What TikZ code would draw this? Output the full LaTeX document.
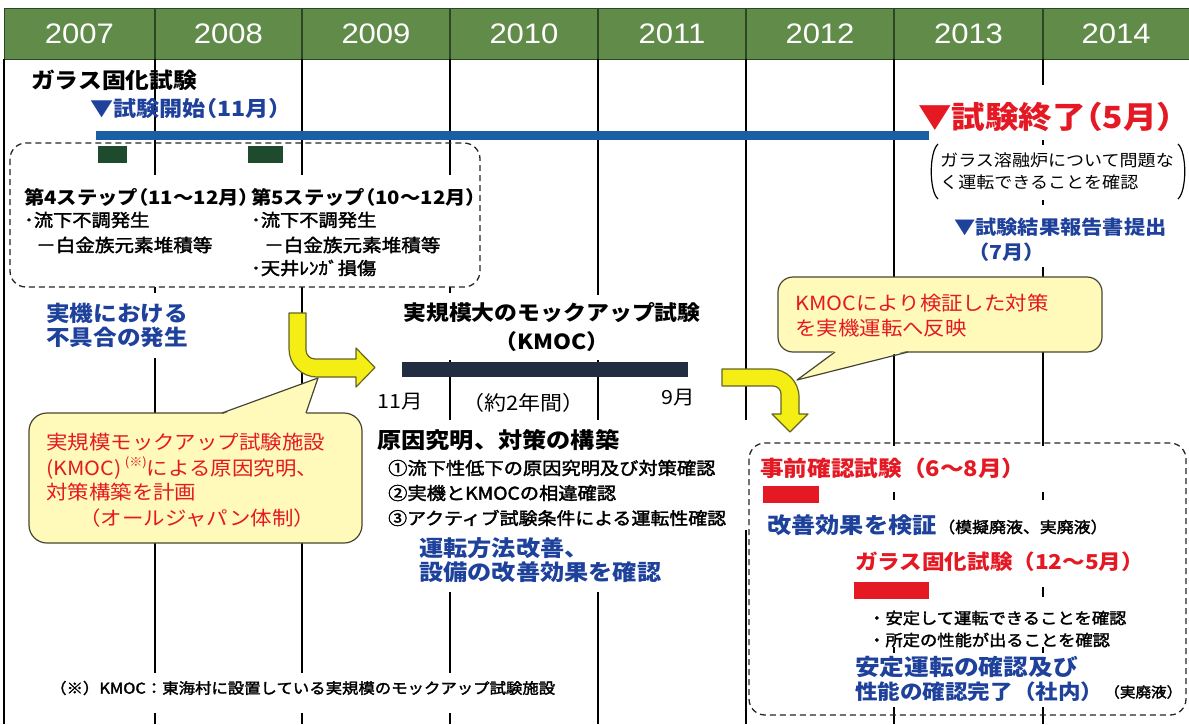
\documentclass[tikz,border=0pt]{standalone}
\usepackage{fontspec}
\setmainfont{Noto Sans CJK JP}[FakeStretch=1.1]
\newfontfamily\jpm{Noto Sans CJK JP}[FakeStretch=1.1,FakeBold=2]
\newfontfamily\yr{Liberation Sans}[FakeStretch=1.1]
\newcommand\fsz[1]{\fontsize{#1}{#1}\selectfont}
\newcommand\lp{\makebox[0.55em][r]{（}}
\newcommand\rp{\makebox[0.55em][l]{）}}
\definecolor{hdr}{RGB}{96,139,72}
\definecolor{hdrline}{RGB}{45,70,35}
\definecolor{jblue}{RGB}{30,65,155}
\definecolor{barblue}{RGB}{25,95,165}
\definecolor{jred}{RGB}{228,25,35}
\definecolor{navy}{RGB}{35,45,65}
\definecolor{dgreen}{RGB}{30,75,45}
\definecolor{cofill}{RGB}{255,250,185}
\definecolor{coline}{RGB}{70,70,50}
\definecolor{ayel}{RGB}{245,238,20}
\definecolor{aedge}{RGB}{100,100,40}
\tikzset{
  col/.style={line width=1.3pt, black},
  dbox/.style={draw=black!85, line width=1.3pt, dash pattern=on 6pt off 4pt, rounded corners=16pt},
  co/.style={fill=cofill, draw=coline, line width=1.2pt},
  cotip/.style={fill=cofill, draw=none},
  yarr/.style={fill=ayel, draw=aedge, line width=1.2pt, line join=round},
  tx/.style={anchor=west, inner sep=0pt},
  yearlbl/.style={inner sep=0pt, text=white, font=\yr\fsz{28.2}},
}
\begin{document}
\begin{tikzpicture}[x=1pt,y=-1pt]
\useasboundingbox (0,0) rectangle (1189,724);
\fill[white] (0,0) rectangle (1189,724);
% header
\filldraw[fill=hdr, draw=hdrline, line width=1pt] (4,8) rectangle (1192,59);
\foreach \x in {155,302,450,598,746,894,1043} \draw[hdrline, line width=1.2pt] (\x,8) -- (\x,59);
\foreach \n/\x in {2007/79.5,2008/228.5,2009/376,2010/524,2011/672,2012/820,2013/968.5,2014/1116}
  \node[yearlbl] (y\n) at (\x,34) {\n};
% column lines
\draw[col] (4,59) -- (4,724);
\foreach \a/\b in {59/175,287/293,358/413,543/673,713/724} \draw[col] (155,\a) -- (155,\b);
\foreach \a/\b in {59/175,287/413,543/673,713/724} \draw[col] (302,\a) -- (302,\b);
\foreach \a/\b in {59/175,287/293,360/420,592/673,713/724} \draw[col] (450,\a) -- (450,\b);
\foreach \a/\b in {59/295,360/420,592/724} \draw[col] (598,\a) -- (598,\b);
\foreach \a/\b in {59/420,530/724} \draw[col] (746,\a) -- (746,\b);
\foreach \a/\b in {59/277,352/446,492/500,587/597,647/653,707/724} \draw[col] (894,\a) -- (894,\b);
\foreach \a/\b in {59/85,140/145,200/205,267/277,352/446,492/500,587/597,647/653,707/724} \draw[col] (1043,\a) -- (1043,\b);
% top glass test
\node[tx, font=\bfseries\fsz{21.6}] (gtitle) at (31,80) {ガラス固化試験};
\node[tx, text=jblue, font=\bfseries\fsz{21}] (gstart) at (90,109) {▼試験開始\lp 11月\rp};
\fill[barblue] (96,130.5) rectangle (929,140);
\node[tx, text=jred, font=\bfseries\fsz{30.5}] (gend) at (918,117) {▼試験終了\lp 5月\rp};
\node[tx, font=\fsz{16.4}] (pn1) at (940,160) {ガラス溶融炉について問題な};
\node[tx, font=\fsz{16.4}] (pn2) at (940,182) {く運転できることを確認};
\draw[line width=1.2pt] (938,144) .. controls (929,152) and (929,191) .. (938,199);
\draw[line width=1.2pt] (1178,144) .. controls (1187,152) and (1187,191) .. (1178,199);
\node[tx, text=jblue, font=\bfseries\fsz{19.3}] (rep1) at (954,227) {▼試験結果報告書提出};
\node[tx, text=jblue, font=\bfseries\fsz{19.3}] (rep2) at (979,252) {\lp 7月\rp};
% left dashed box
\draw[dbox] (10,143) rectangle (480,287);
\fill[dgreen] (98,146) rectangle (127,163);
\fill[dgreen] (248,146) rectangle (283,163);
\node[tx, font=\bfseries\fsz{18.5}] (s4) at (24,197) {第4ステップ\lp 11～12月\rp};
\node[tx, font=\jpm\fsz{17.5}] (s4a) at (24,220) {･流下不調発生};
\node[tx, font=\jpm\fsz{17.8}] (s4b) at (36,245) {－白金族元素堆積等};
\node[tx, font=\bfseries\fsz{18.5}] (s5) at (251,197) {第5ステップ\lp 10～12月\rp};
\node[tx, font=\jpm\fsz{17.5}] (s5a) at (251,220) {･流下不調発生};
\node[tx, font=\jpm\fsz{17.8}] (s5b) at (264,245) {－白金族元素堆積等};
\node[tx, font=\jpm\fsz{17.5}] (s5c) at (251,268) {･天井ﾚﾝｶﾞ損傷};
\node[tx, text=jblue, font=\bfseries\fsz{21.5}] (fail1) at (46,313) {実機における};
\node[tx, text=jblue, font=\bfseries\fsz{21.5}] (fail2) at (46,337) {不具合の発生};
% KMOC
\node[font=\bfseries\fsz{20.8}, inner sep=0pt] (km1) at (552,313) {実規模大のモックアップ試験};
\node[font=\bfseries\fsz{20.8}, inner sep=0pt] (km2) at (552,342) {（KMOC）};
\fill[navy] (402,362) rectangle (688,377);
\node[tx, font=\fsz{19.5}] (m11) at (377,402) {11月};
\node[tx, font=\fsz{20}] (m2y) at (462,403) {（約2年間）};
\node[tx, font=\fsz{19.5}] (m9) at (661,398) {9月};
\node[tx, font=\bfseries\fsz{22}] (cause) at (377,440) {原因究明、対策の構築};
\node[tx, font=\jpm\fsz{17.5}] (c1) at (388,468) {①流下性低下の原因究明及び対策確認};
\node[tx, font=\jpm\fsz{17.5}] (c2) at (388,493) {②実機とKMOCの相違確認};
\node[tx, font=\jpm\fsz{17.2}] (c3) at (388,518) {③アクティブ試験条件による運転性確認};
\node[tx, text=jblue, font=\bfseries\fsz{22}] (imp1) at (419,548) {運転方法改善、};
\node[tx, text=jblue, font=\bfseries\fsz{22}] (imp2) at (419,572) {設備の改善効果を確認};
% callout 1
\filldraw[co, rounded corners=18pt] (29,413) rectangle (362,543);
\fill[cotip] (222,414.5) -- (318,378) -- (306,414.5) -- cycle;
\draw[coline, line width=1.2pt, line join=round] (222,413) -- (318,378) -- (306,413);
\node[tx, text=jred, font=\fsz{19.5}] (cl1) at (46,442) {実規模モックアップ試験施設};
\node[tx, text=jred, font=\fsz{19.5}] (cl2) at (46,468) {(KMOC)\,\raisebox{0.5em}{\fsz{12}(※)}による原因究明、};
\node[tx, text=jred, font=\fsz{19.5}] (cl3) at (46,492) {対策構築を計画};
\node[tx, text=jred, font=\fsz{19.5}] (cl4) at (79,518) {（オールジャパン体制）};
% callout 2
\filldraw[co, rounded corners=15pt] (778,277) rectangle (1102,352);
\fill[cotip] (835,350.5) -- (797,380) -- (908,350.5) -- cycle;
\draw[coline, line width=1.2pt, line join=round] (835,352) -- (797,380) -- (908,352);
\node[tx, text=jred, font=\fsz{19.5}] (cr1) at (795,303) {KMOCにより検証した対策};
\node[tx, text=jred, font=\fsz{19.5}] (cr2) at (795,328) {を実機運転へ反映};
% yellow arrows
\filldraw[yarr] (289,313) -- (306,313) -- (306,350) .. controls (306,355) and (310,359) .. (315,359)
  -- (356,359) -- (356,348) -- (375,367.5) -- (356,387) -- (356,377) -- (317,377)
  .. controls (301.6,377) and (289,364.4) .. (289,349) -- cycle;
\filldraw[yarr] (722,369) -- (771,369) .. controls (786.5,369) and (799,381.5) .. (799,397)
  -- (799,414) -- (808,414) -- (790,432) -- (772,414) -- (781,414) -- (781,394)
  .. controls (781,389.6) and (777.4,386) .. (773,386) -- (722,386) -- cycle;
% right dashed box
\draw[dbox] (749,443) rectangle (1186,715);
\node[tx, text=jred, font=\bfseries\fsz{21.5}] (pre) at (760,468) {事前確認試験（6～8月）};
\fill[jred] (763,486) rectangle (819,503);
\node[tx, text=jblue, font=\bfseries\fsz{22}] (ver) at (767,525) {改善効果を検証};
\node[tx, font=\jpm\fsz{15.4}] (verb) at (938,527) {（模擬廃液、実廃液）};
\node[tx, text=jred, font=\bfseries\fsz{20.5}] (gv) at (855,562) {ガラス固化試験（12～5月）};
\fill[jred] (854,582) rectangle (929,599);
\node[tx, font=\jpm\fsz{15.7}] (gv1) at (868,618) {・安定して運転できることを確認};
\node[tx, font=\jpm\fsz{15.7}] (gv2) at (868,640) {・所定の性能が出ることを確認};
\node[tx, text=jblue, font=\bfseries\fsz{22.5}] (ok1) at (855,667) {安定運転の確認及び};
\node[tx, text=jblue, font=\bfseries\fsz{20.5}] (ok2) at (855,692) {性能の確認完了（社内）};
\node[tx, font=\jpm\fsz{14.2}] (ok3) at (1104,692) {（実廃液）};
% footnote
\node[tx, font=\jpm\fsz{14.9}] (foot) at (50,688) {（※）KMOC：東海村に設置している実規模のモックアップ試験施設};
\end{tikzpicture}
\end{document}
